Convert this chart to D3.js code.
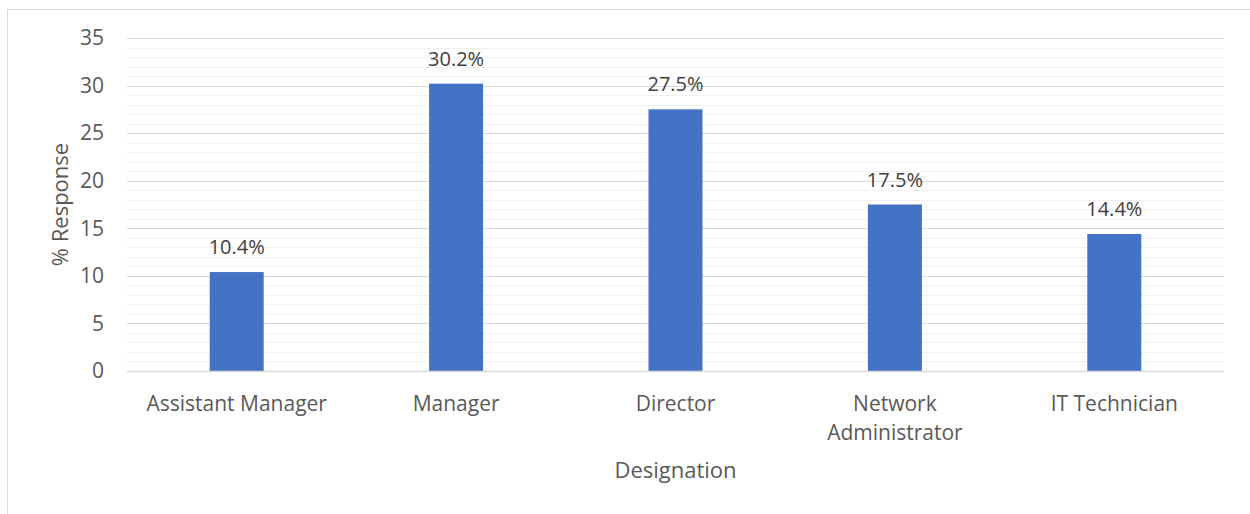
<!DOCTYPE html>
<html>
<head>
<meta charset="utf-8">
<script src="https://cdn.jsdelivr.net/npm/d3@7"></script>
<style>
  html, body { margin: 0; padding: 0; background: #fff; }
  svg { display: block; font-family: "Open Sans", sans-serif; }
</style>
</head>
<body>
<svg id="chart" width="1250" height="514"></svg>
<script>
const categories = ["Assistant Manager", "Manager", "Director", "Network Administrator", "IT Technician"];
const values = [10.4, 30.2, 27.5, 17.5, 14.4];
const dataLabels = ["10.4%", "30.2%", "27.5%", "17.5%", "14.4%"];
const yTicks = [0, 5, 10, 15, 20, 25, 30, 35];
const minorTicks = d3.range(0, 36, 1);
const yTitle = "% Response";
const xTitle = "Designation";

const svg = d3.select("#chart");
const W = 1250, H = 514;
const m = { left: 127, right: 1224, top: 38, bottom: 371 };

// chart border
svg.append("rect").attr("x", 7.5).attr("y", 9.5).attr("width", W + 10).attr("height", H + 10)
  .attr("fill", "none").attr("stroke", "#d9d9d9").attr("stroke-width", 1);

const x = d3.scaleBand().domain(categories).range([m.left, m.right]).paddingInner(0).paddingOuter(0);
const y = d3.scaleLinear().domain([0, 35]).range([m.bottom, m.top]);

// minor gridlines
svg.append("g").selectAll("line").data(minorTicks.filter(d => d % 5 !== 0)).join("line")
  .attr("x1", m.left).attr("x2", m.right)
  .attr("y1", d => Math.round(y(d)) + 0.5).attr("y2", d => Math.round(y(d)) + 0.5)
  .attr("stroke", "#f0f0f0").attr("stroke-width", 1);

// major gridlines
svg.append("g").selectAll("line").data(yTicks.filter(d => d > 0)).join("line")
  .attr("x1", m.left).attr("x2", m.right)
  .attr("y1", d => Math.round(y(d)) + 0.5).attr("y2", d => Math.round(y(d)) + 0.5)
  .attr("stroke", "#d9d9d9").attr("stroke-width", 1);

// y axis labels
const yAxis = d3.axisLeft(y).tickValues(yTicks).tickSize(0).tickPadding(23);
const gy = svg.append("g").attr("transform", `translate(${m.left},0)`).call(yAxis);
gy.select(".domain").remove();
gy.selectAll("text").attr("font-size", 21).attr("fill", "#595959")
  .attr("font-family", "'Open Sans', sans-serif");

// bars
const barW = 54;
svg.append("g").selectAll("rect").data(values).join("rect")
  .attr("x", (d, i) => x(categories[i]) + x.bandwidth() / 2 - barW / 2)
  .attr("width", barW)
  .attr("y", d => y(d))
  .attr("height", d => y(0) - y(d))
  .attr("fill", "#4472c4");

// x axis line
svg.append("line").attr("x1", m.left).attr("x2", m.right)
  .attr("y1", Math.round(y(0)) + 0.5).attr("y2", Math.round(y(0)) + 0.5)
  .attr("stroke", "#d9d9d9").attr("stroke-width", 1.5);

// x axis labels
const xAxis = d3.axisBottom(x).tickSize(0).tickPadding(0);
const gx = svg.append("g").attr("transform", `translate(0,${m.bottom})`).call(xAxis);
gx.select(".domain").remove();
gx.selectAll("text").remove();
gx.selectAll(".tick").each(function(d) {
  const t = d3.select(this).append("text")
    .attr("text-anchor", "middle").attr("font-size", 21).attr("fill", "#595959")
    .attr("font-family", "'Open Sans', sans-serif");
  const lines = d === "Network Administrator" ? ["Network", "Administrator"] : [d];
  lines.forEach((ln, k) => t.append("tspan").attr("x", 0).attr("y", 40 + k * 29).text(ln));
});

// data labels
svg.append("g").selectAll("text").data(values).join("text")
  .attr("x", (d, i) => x(categories[i]) + x.bandwidth() / 2)
  .attr("y", d => y(d) - 18)
  .attr("text-anchor", "middle").attr("font-size", 20).attr("fill", "#404040")
  .text((d, i) => dataLabels[i]);

// axis titles
svg.append("text").attr("transform", `translate(68,${(m.top + m.bottom) / 2}) rotate(-90)`)
  .attr("text-anchor", "middle").attr("font-size", 22).attr("fill", "#595959").text(yTitle);
svg.append("text").attr("x", (m.left + m.right) / 2).attr("y", 478)
  .attr("text-anchor", "middle").attr("font-size", 22).attr("fill", "#595959").text(xTitle);
</script>
</body>
</html>
